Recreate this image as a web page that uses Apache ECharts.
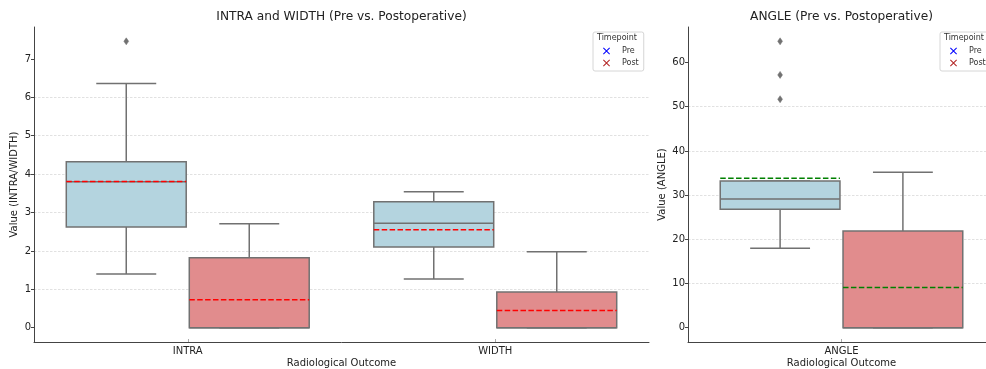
<!DOCTYPE html>
<html><head><meta charset="utf-8">
<script src="https://cdn.jsdelivr.net/npm/echarts@6/dist/echarts.min.js"></script>
<style>html,body{margin:0;padding:0;background:#fff}#c{width:986px;height:369px}</style>
</head><body><div id="c"></div>
<script>
// ---- data ----
const leftCategories = ['INTRA', 'WIDTH'];
const rightCategories = ['ANGLE'];
const timepoints = ['Pre', 'Post'];
// [lowWhisker, Q1, median, Q3, highWhisker]
const intraWidthPre = [[1.40, 2.62, 3.80, 4.32, 6.36], [1.27, 2.10, 2.72, 3.28, 3.54]];
const intraWidthPost = [[0, 0, 0, 1.82, 2.71], [0, 0, 0, 0.93, 1.98]];
const intraWidthPreMean = [3.81, 2.55];
const intraWidthPostMean = [0.73, 0.45];
const intraWidthPreOutliers = [[0, 7.46]]; // [categoryIndex, value]
const anglePre = [[18.0, 26.8, 29.1, 33.2, 33.2]];
const anglePost = [[0, 0, 0, 21.9, 35.2]];
const anglePreMean = [33.8];
const anglePostMean = [9.1];
const anglePreOutliers = [[0, 51.7], [0, 57.2], [0, 64.8]];
const leftYTicks = [0, 1, 2, 3, 4, 5, 6, 7];
const rightYTicks = [0, 10, 20, 30, 40, 50, 60];

// ---- styles ----
const FONT = 'DejaVu Sans';
const EDGE = '#717171';
const PRE_FILL = '#b4d4df';
const POST_FILL = '#e18c8d';
const PRE_MARK = '#0000ff';
const POST_MARK = '#b22222';
const OFFSETS = [-0.2, 0.2];
const BOX_FRAC = 0.39;

function buildBoxData(boxes, means) {
  return boxes.map((b, i) => [i].concat(b, [means[i]]));
}

function makeBoxRenderer(offset, fill, meanColor) {
  return function (params, api) {
    const cat = api.value(0);
    const band = api.size([1, 0])[0];
    const cx = api.coord([cat, 0])[0] + offset * band;
    const w = band * BOX_FRAC;
    const y = k => api.coord([cat, api.value(k)])[1];
    const yLow = y(1), yQ1 = y(2), yMed = y(3), yQ3 = y(4), yHigh = y(5), yMean = y(6);
    const ls = { stroke: EDGE, lineWidth: 1.5 };
    return {
      type: 'group',
      children: [
        { type: 'line', shape: { x1: cx, y1: yLow, x2: cx, y2: yQ1 }, style: ls },
        { type: 'line', shape: { x1: cx, y1: yQ3, x2: cx, y2: yHigh }, style: ls },
        { type: 'line', shape: { x1: cx - w / 4, y1: yLow, x2: cx + w / 4, y2: yLow }, style: ls },
        { type: 'line', shape: { x1: cx - w / 4, y1: yHigh, x2: cx + w / 4, y2: yHigh }, style: ls },
        { type: 'rect', shape: { x: cx - w / 2, y: yQ3, width: w, height: yQ1 - yQ3 }, style: { fill: fill, stroke: EDGE, lineWidth: 1.5 } },
        { type: 'line', shape: { x1: cx - w / 2, y1: yMed, x2: cx + w / 2, y2: yMed }, style: ls },
        { type: 'line', shape: { x1: cx - w / 2, y1: yMean, x2: cx + w / 2, y2: yMean }, style: { stroke: meanColor, lineWidth: 1.5, lineDash: [5.5, 2.4] } }
      ]
    };
  };
}

function outlierRenderer(offset) {
  return function (params, api) {
    const cat = api.value(0);
    const band = api.size([1, 0])[0];
    const p = api.coord([cat, api.value(1)]);
    const cx = p[0] + offset * band, cy = p[1];
    return {
      type: 'polygon',
      shape: { points: [[cx, cy - 3.5], [cx + 2.4, cy], [cx, cy + 3.5], [cx - 2.4, cy]] },
      style: { fill: EDGE, stroke: EDGE, lineWidth: 0.5 }
    };
  };
}

const X_ICON = 'path://M0,1L1,0L5,4L9,0L10,1L6,5L10,9L9,10L5,6L1,10L0,9L4,5Z';

function xAxisCfg(gridIndex, cats) {
  return {
    gridIndex: gridIndex, type: 'category', data: cats, boundaryGap: true,
    axisLine: { show: true, onZero: false, lineStyle: { color: '#444', width: 1 } },
    axisTick: { show: true, alignWithLabel: true, inside: true, length: 3, lineStyle: { color: '#aaa' } },
    axisLabel: { fontFamily: FONT, fontSize: 10, color: '#222', margin: 4 },
    splitLine: { show: false },
    name: 'Radiological Outcome', nameLocation: 'middle', nameGap: 16, nameMoveOverlap: false,
    nameTextStyle: { fontFamily: FONT, fontSize: 10, color: '#222' }
  };
}

function yAxisCfg(gridIndex, min, max, interval, splitNumber, name, ticks, nameGap) {
  return {
    gridIndex: gridIndex, type: 'value', min: min, max: max,
    splitNumber: splitNumber, minInterval: interval, maxInterval: interval,
    axisLine: { show: true, onZero: false, lineStyle: { color: '#444', width: 1 } },
    axisTick: { show: true, length: 3, customValues: ticks, lineStyle: { color: '#444' } },
    axisLabel: {
      fontFamily: FONT, fontSize: 10, color: '#222', margin: 3,
      customValues: ticks
    },
    splitLine: { show: true, showMinLine: false, showMaxLine: false, lineStyle: { color: '#d9d9d9', width: 0.8, type: [2.5, 1.5] } },
    name: name, nameLocation: 'middle', nameGap: nameGap, nameMoveOverlap: false,
    nameTextStyle: { fontFamily: FONT, fontSize: 10, color: '#222' }
  };
}

function legendCfg(left) {
  return {
    left: left, top: 32, orient: 'vertical', selectedMode: false,
    padding: [14, 5, 3, 10], itemGap: 2, itemWidth: 7, itemHeight: 7,
    icon: X_ICON, data: timepoints,
    borderColor: '#d6d6d6', borderWidth: 1, borderRadius: 2, backgroundColor: '#fff',
    textStyle: { fontFamily: FONT, fontSize: 8, color: '#333', padding: [0, 0, 0, 7], lineHeight: 10 }
  };
}

const chart = echarts.init(document.getElementById('c'), null, { renderer: 'canvas' });
chart.setOption({
  animation: false,
  backgroundColor: '#fff',
  title: [
    { text: 'INTRA and WIDTH (Pre vs. Postoperative)', left: 341.5, top: 11, textAlign: 'center', padding: 0,
      textStyle: { fontFamily: FONT, fontSize: 12.2, fontWeight: 'normal', color: '#222' } },
    { text: 'ANGLE (Pre vs. Postoperative)', left: 841.5, top: 11, textAlign: 'center', padding: 0,
      textStyle: { fontFamily: FONT, fontSize: 12.2, fontWeight: 'normal', color: '#222' } }
  ],
  legend: [legendCfg(593), legendCfg(940)],
  graphic: [
    { type: 'text', left: 597, top: 34, z: 100, style: { text: 'Timepoint', font: '8px "DejaVu Sans"', fill: '#333' } },
    { type: 'text', left: 944, top: 34, z: 100, style: { text: 'Timepoint', font: '8px "DejaVu Sans"', fill: '#333' } }
  ],
  grid: [
    { left: 34, top: 27, width: 615, height: 315, outerBoundsMode: 'none', containLabel: false },
    { left: 688, top: 27, width: 307, height: 315, outerBoundsMode: 'none', containLabel: false }
  ],
  xAxis: [xAxisCfg(0, leftCategories), xAxisCfg(1, rightCategories)],
  yAxis: [
    yAxisCfg(0, -0.373, 7.833, 1, 8, 'Value (INTRA/WIDTH)', leftYTicks, 15),
    yAxisCfg(1, -3.24, 68.04, 10, 7, 'Value (ANGLE)', rightYTicks, 21)
  ],
  series: [
    { name: timepoints[0], type: 'custom', xAxisIndex: 0, yAxisIndex: 0, itemStyle: { color: PRE_MARK },
      encode: { x: 0, y: [1, 2, 3, 4, 5, 6] }, data: buildBoxData(intraWidthPre, intraWidthPreMean),
      renderItem: makeBoxRenderer(OFFSETS[0], PRE_FILL, '#ff0000') },
    { name: timepoints[1], type: 'custom', xAxisIndex: 0, yAxisIndex: 0, itemStyle: { color: POST_MARK },
      encode: { x: 0, y: [1, 2, 3, 4, 5, 6] }, data: buildBoxData(intraWidthPost, intraWidthPostMean),
      renderItem: makeBoxRenderer(OFFSETS[1], POST_FILL, '#ff0000') },
    { name: 'outliers', type: 'custom', xAxisIndex: 0, yAxisIndex: 0,
      encode: { x: 0, y: 1 }, data: intraWidthPreOutliers, renderItem: outlierRenderer(OFFSETS[0]) },
    { name: timepoints[0], type: 'custom', xAxisIndex: 1, yAxisIndex: 1, itemStyle: { color: PRE_MARK },
      encode: { x: 0, y: [1, 2, 3, 4, 5, 6] }, data: buildBoxData(anglePre, anglePreMean),
      renderItem: makeBoxRenderer(OFFSETS[0], PRE_FILL, '#008000') },
    { name: timepoints[1], type: 'custom', xAxisIndex: 1, yAxisIndex: 1, itemStyle: { color: POST_MARK },
      encode: { x: 0, y: [1, 2, 3, 4, 5, 6] }, data: buildBoxData(anglePost, anglePostMean),
      renderItem: makeBoxRenderer(OFFSETS[1], POST_FILL, '#008000') },
    { name: 'outliers', type: 'custom', xAxisIndex: 1, yAxisIndex: 1,
      encode: { x: 0, y: 1 }, data: anglePreOutliers, renderItem: outlierRenderer(OFFSETS[0]) }
  ]
});
</script>
</body></html>
